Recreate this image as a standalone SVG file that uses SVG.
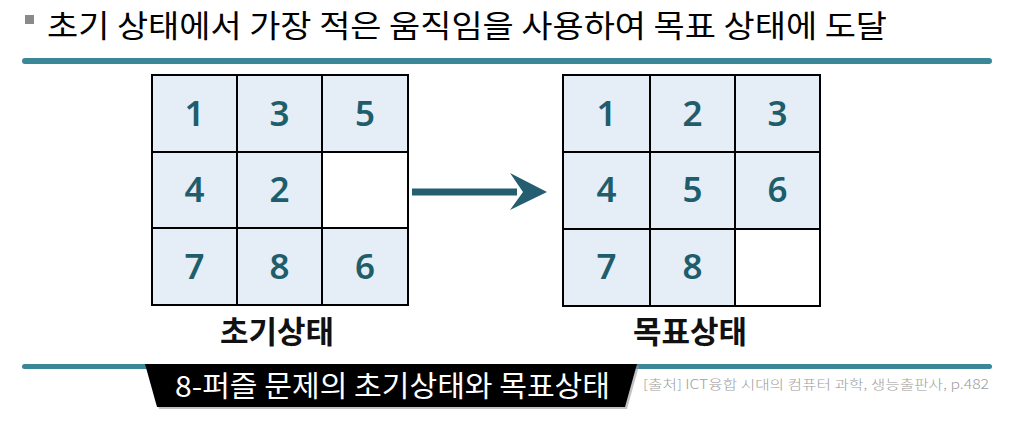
<svg xmlns="http://www.w3.org/2000/svg" width="1013" height="426" viewBox="0 0 1013 426">
<defs>
<style>
.rule{fill:#3a8797}
.cell{fill:#e5edf6;stroke:#000;stroke-width:2}
.empty{fill:#fff;stroke:#000;stroke-width:2}
.num{font-family:"Noto Sans","Liberation Sans",sans-serif;font-size:35px;font-weight:600;fill:#1e5d6b;text-anchor:middle}
.lbl{font-family:"Noto Sans CJK KR",sans-serif;font-size:31px;font-weight:bold;fill:#111;text-anchor:middle}
.title{font-family:"Noto Sans CJK KR",sans-serif;font-size:31px;fill:#000}
.banner{font-family:"Noto Sans CJK KR",sans-serif;font-size:29px;font-weight:normal;fill:#fff}
.src{font-family:"Noto Sans CJK KR",sans-serif;font-size:13px;font-weight:300;fill:#a0a0a0}
</style>
</defs>
<rect width="1013" height="426" fill="#fff"/>
<g id="title">
<rect x="25" y="15" width="9" height="9" fill="#8a8a8a"/>
<text class="title" x="47" y="37" textLength="840" lengthAdjust="spacingAndGlyphs">초기 상태에서 가장 적은 움직임을 사용하여 목표 상태에 도달</text>
</g>
<rect class="rule" x="22" y="58" width="970" height="6" rx="3"/>
<g id="initial">
<rect class="cell" x="152" y="75" width="85" height="77"/>
<rect class="cell" x="237" y="75" width="85" height="77"/>
<rect class="cell" x="322" y="75" width="86" height="77"/>
<rect class="cell" x="152" y="152" width="85" height="76"/>
<rect class="cell" x="237" y="152" width="85" height="76"/>
<rect class="empty" x="322" y="152" width="86" height="76"/>
<rect class="cell" x="152" y="228" width="85" height="77"/>
<rect class="cell" x="237" y="228" width="85" height="77"/>
<rect class="cell" x="322" y="228" width="86" height="77"/>
<text class="num" x="194.5" y="126">1</text>
<text class="num" x="279.5" y="126">3</text>
<text class="num" x="365" y="126">5</text>
<text class="num" x="194.5" y="202">4</text>
<text class="num" x="279.5" y="202">2</text>
<text class="num" x="194.5" y="279">7</text>
<text class="num" x="279.5" y="279">8</text>
<text class="num" x="365" y="279">6</text>
<text class="lbl" x="277" y="343">초기상태</text>
</g>
<g id="goal">
<rect class="cell" x="563" y="75" width="87" height="77"/>
<rect class="cell" x="650" y="75" width="85" height="77"/>
<rect class="cell" x="735" y="75" width="85" height="77"/>
<rect class="cell" x="563" y="152" width="87" height="77"/>
<rect class="cell" x="650" y="152" width="85" height="77"/>
<rect class="cell" x="735" y="152" width="85" height="77"/>
<rect class="cell" x="563" y="229" width="87" height="77"/>
<rect class="cell" x="650" y="229" width="85" height="77"/>
<rect class="empty" x="735" y="229" width="85" height="77"/>
<text class="num" x="606.5" y="126">1</text>
<text class="num" x="692.5" y="126">2</text>
<text class="num" x="777.5" y="126">3</text>
<text class="num" x="606.5" y="202">4</text>
<text class="num" x="692.5" y="202">5</text>
<text class="num" x="777.5" y="202">6</text>
<text class="num" x="606.5" y="279">7</text>
<text class="num" x="692.5" y="279">8</text>
<text class="lbl" x="690" y="343">목표상태</text>
</g>
<g id="connectors">
<rect x="412" y="188.5" width="105" height="7" fill="#245e70"/>
<polygon points="510,173 547,192 510,210 523,192" fill="#245e70"/>
</g>
<rect class="rule" x="22" y="364" width="970" height="5" rx="2.5"/>
<g id="caption">
<polygon points="147,366 639,366 627,409 159,409" fill="#9a9a9a" opacity="0.6"/>
<polygon points="145,364 637,364 625,407 157,407" fill="#000"/>
<text class="banner" x="175" y="397" textLength="435" lengthAdjust="spacingAndGlyphs">8-퍼즐 문제의 초기상태와 목표상태</text>
<text class="src" x="643" y="389" textLength="346" lengthAdjust="spacingAndGlyphs">[출처] ICT융합 시대의 컴퓨터 과학, 생능출판사, p.482</text>
</g>
</svg>
